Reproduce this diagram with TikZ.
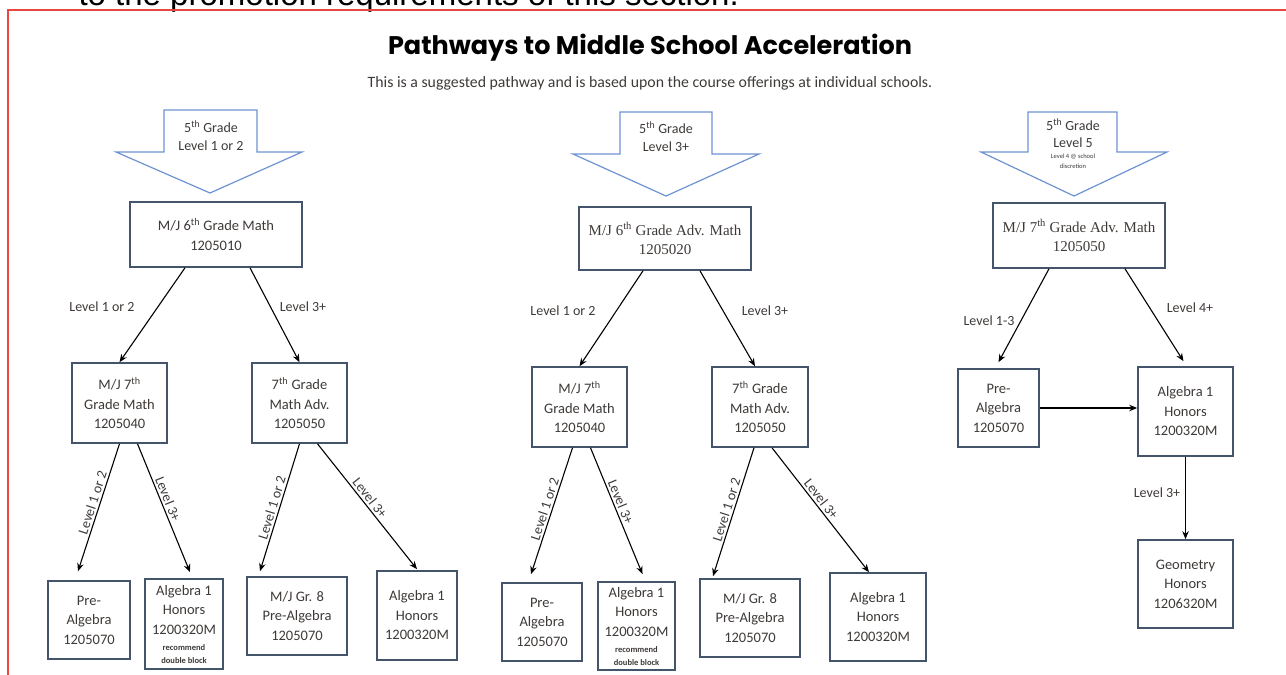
\documentclass[tikz,border=0pt]{standalone}
\usepackage{fontspec}
\setmainfont{Carlito}
\newfontfamily\serifbox{Liberation Serif}
\newfontfamily\titlefont{Poppins}
\newfontfamily\pagefont{Liberation Sans}
\usetikzlibrary{arrows.meta}
\definecolor{boxgray}{HTML}{44546A}
\definecolor{txtgray}{HTML}{3E3A38}
\definecolor{arrowblue}{HTML}{6E93D3}
\definecolor{framered}{HTML}{E8463F}

\begin{document}
\begin{tikzpicture}[x=1pt, y=-1pt,
every edge/.style = {draw=black, line width=1.1pt,
                     -{Stealth[length=8pt,width=6.5pt]}},
 course/.style args = {#1/#2}{%
      rectangle, draw=boxgray, line width=1.6pt, fill=white,
      text=txtgray, align=center, inner sep=0pt,
      font=\fontsize{14.5}{19.5}\selectfont,
      minimum width=#1pt, minimum height=#2pt},
 grade/.style = {draw=arrowblue, line width=1.2pt, fill=white},
 lvl/.style   = {text=txtgray, font=\fontsize{14}{16}\selectfont},
 slope/.style = {lvl, sloped, above, inner sep=2pt}
                    ]
\useasboundingbox (0,0) rectangle (1286,675);
\node (top) [anchor=base west, font=\pagefont\fontsize{33}{35}\selectfont]
      at (75,5) {to the promotion requirements of this section.};
\draw[framered, line width=1.2pt] (8,680) -- (8,10) -- (1290,10);
\node (T) [font=\titlefont\bfseries\fontsize{25.5}{28}\selectfont] at (650,48)
      {Pathways to Middle School Acceleration};
\node (S) [text=txtgray, font=\fontsize{15.8}{17}\selectfont] at (650,83)
      {This is a suggested pathway and is based upon the course offerings at individual schools.};
 %
\draw[grade] (164,110) -- (257,110) -- (257,152) -- (302,152) -- (210,193)
             -- (116,152) -- (164,152) -- cycle;
\draw[grade] (620,112) -- (712,112) -- (712,154) -- (759,154) -- (666,196)
             -- (573,154) -- (620,154) -- cycle;
\draw[grade] (1028,112) -- (1117,112) -- (1117,152) -- (1167,152) -- (1074,196)
             -- (981,152) -- (1028,152) -- cycle;
\node (g1) [lvl, align=center, font=\fontsize{14}{18}\selectfont] at (211,136)
      {5\textsuperscript{th} Grade\\Level 1 or 2};
\node (g2) [lvl, align=center, font=\fontsize{14}{18}\selectfont] at (666,137)
      {5\textsuperscript{th} Grade\\Level 3+};
\node (g3) [lvl, align=center, font=\fontsize{14}{17}\selectfont] at (1073,144)
      {5\textsuperscript{th} Grade\\Level 5\\[-6pt]{\fontsize{6.5}{7}\selectfont Level 4 @ school}\\[-7pt]{\fontsize{6.5}{7}\selectfont discretion}};
 %
\node (A1) [course=172/65] at (216,234.5) {M/J 6\textsuperscript{th} Grade Math\\1205010};
\node (B1) [course=95/80]  at (119.5,403) {M/J 7\textsuperscript{th}\\Grade Math\\1205040};
\node (C1) [course=95/80]  at (299.5,403) {7\textsuperscript{th} Grade\\Math Adv.\\1205050};
\node (D1) [course=82/78]  at (89,620)    {Pre-\\Algebra\\1205070};
\node (E1) [course=78/90]  at (184,624)
      {Algebra 1\\Honors\\1200320M\\[-3pt]{\bfseries\fontsize{8.5}{10}\selectfont recommend}\\[-7pt]{\bfseries\fontsize{8.5}{10}\selectfont double block}};
\node (F1) [course=100/78] at (297,616)   {M/J Gr. 8\\Pre-Algebra\\1205070};
\node (G1) [course=80/89]  at (417,615.5) {Algebra 1\\Honors\\1200320M};
 %
\node (A2) [course=172/63, font=\serifbox\fontsize{15}{19}\selectfont] at (665,238.5)
      {M/J 6\textsuperscript{th} Grade Adv. Math\\1205020};
\node (B2) [course=95/80]  at (579.5,407) {M/J 7\textsuperscript{th}\\Grade Math\\1205040};
\node (C2) [course=96/80]  at (760,407)   {7\textsuperscript{th} Grade\\Math Adv.\\1205050};
\node (D2) [course=80/78]  at (542,622)   {Pre-\\Algebra\\1205070};
\node (E2) [course=77/88]  at (636.5,626)
      {Algebra 1\\Honors\\1200320M\\[-3pt]{\bfseries\fontsize{8.5}{10}\selectfont recommend}\\[-7pt]{\bfseries\fontsize{8.5}{10}\selectfont double block}};
\node (F2) [course=100/78] at (750,618)   {M/J Gr. 8\\Pre-Algebra\\1205070};
\node (G2) [course=96/88]  at (878,617)   {Algebra 1\\Honors\\1200320M};
 %
\node (A3) [course=172/65, font=\serifbox\fontsize{15}{19}\selectfont] at (1079,235.5)
      {M/J 7\textsuperscript{th} Grade Adv. Math\\1205050};
\node (P3) [course=81/78]  at (998.5,408)  {Pre-\\Algebra\\1205070};
\node (Q3) [course=95/89]  at (1185.5,411.5) {Algebra 1\\Honors\\1200320M};
\node (R3) [course=95/88]  at (1185.5,584)   {Geometry\\Honors\\1206320M};
 %
\node (l1) [lvl] at (102,307)  {Level 1 or 2};
\node (l2) [lvl] at (303,307)  {Level 3+};
\node (l3) [lvl] at (563,311)  {Level 1 or 2};
\node (l4) [lvl] at (765,311)  {Level 3+};
\node (l5) [lvl] at (989,321)  {Level 1-3};
\node (l6) [lvl] at (1190,308) {Level 4+};
\node (l7) [lvl] at (1157,493) {Level 3+};
 %
\path   ([xshift=-31pt]A1.south) edge (B1.north)
        ([xshift=34pt]A1.south)  edge (C1.north)
        (B1.south) edge node[slope, pos=.48] {Level 1 or 2} ([xshift=-11pt,yshift=9pt]D1.north)
        ([xshift=18pt]B1.south) edge node[slope, pos=.45] {Level 3+} ([xshift=6pt,yshift=6pt]E1.north)
        (C1.south) edge node[slope, pos=.52] {Level 1 or 2} ([xshift=-37pt,yshift=5pt]F1.north)
        ([xshift=18pt]C1.south) edge node[slope, pos=.47] {Level 3+} ([yshift=1pt]G1.north);
\path   ([xshift=-22pt]A2.south) edge (B2.north)
        ([xshift=35pt]A2.south)  edge ([xshift=-5pt]C2.north)
        ([xshift=-7pt]B2.south) edge node[slope, pos=.5] {Level 1 or 2} ([xshift=-11pt,yshift=8pt]D2.north)
        ([xshift=11pt]B2.south) edge node[slope, pos=.45] {Level 3+} ([xshift=6pt,yshift=7pt]E2.north)
        ([xshift=-6pt]C2.south) edge node[slope, pos=.5] {Level 1 or 2} ([xshift=-37pt,yshift=2pt]F2.north)
        ([xshift=12pt]C2.south) edge node[slope, pos=.45] {Level 3+} ([xshift=-9pt]G2.north);
\path   ([xshift=-30pt]A3.south) edge ([yshift=6pt]P3.north)
        ([xshift=46pt]A3.south)  edge ([xshift=-2pt,yshift=5pt]Q3.north)
        (P3.east) edge (P3.east -| Q3.west)
        (Q3.south) edge (R3.north);
\end{tikzpicture}
\end{document}
